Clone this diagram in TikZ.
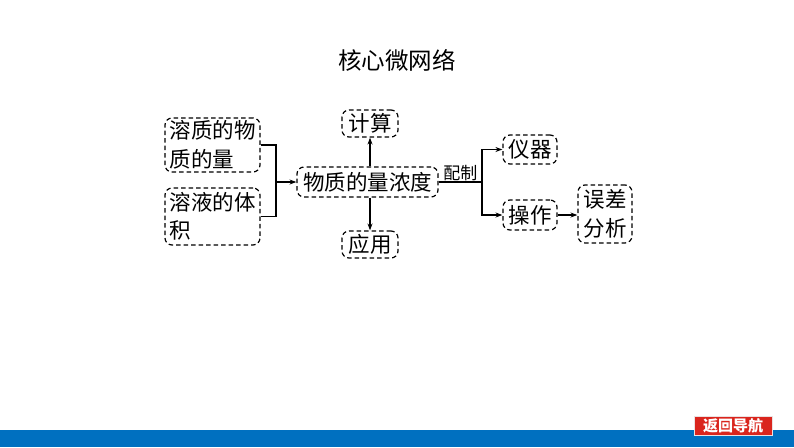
\documentclass[tikz,border=0pt]{standalone}
\usepackage{fontspec}
\setmainfont{Noto Sans CJK SC}
\usetikzlibrary{arrows.meta}
\definecolor{barblue}{RGB}{0,112,192}
\definecolor{navred}{RGB}{218,37,29}
\definecolor{navrim}{RGB}{235,225,225}
\begin{document}
\begin{tikzpicture}[x=1pt,y=-1pt,
  box/.style={draw,dashed,dash pattern=on 4.5pt off 3pt,line width=1.2pt,rounded corners=7pt,inner sep=0pt,font=\fontsize{21.5}{28.5}\selectfont,align=left},
  conn/.style={line width=1.2pt},
  arr/.style={conn,-{Stealth[length=7pt,width=5pt]}}]
\useasboundingbox (0,0) rectangle (794,447);
\fill[white] (0,0) rectangle (794,447);
\fill[barblue] (0,430) rectangle (794,447);
\node[fill=navred,draw=navrim,line width=1pt,minimum width=78pt,minimum height=19pt,inner sep=0pt,text=white,font=\fontsize{15}{16}\selectfont\bfseries] (nav) at (733,425.5) {返回导航};
\node[font=\fontsize{23.5}{26}\selectfont] (title) at (397,60) {核心微网络};
\node[box,minimum width=95pt,minimum height=54pt] (b1) at (212.5,145) {溶质的物\\质的量};
\node[box,minimum width=95pt,minimum height=57pt] (b2) at (212.5,216.5) {溶液的体\\积};
\node[box,minimum width=141pt,minimum height=30pt] (nd) at (367.5,182) {物质的量浓度};
\node[box,minimum width=56pt,minimum height=27pt] (js) at (370,123.5) {计算};
\node[box,minimum width=56pt,minimum height=27pt] (yy) at (370,244.5) {应用};
\node[box,minimum width=54pt,minimum height=29pt] (yq) at (530,149.5) {仪器};
\node[box,minimum width=54pt,minimum height=30pt] (cz) at (530,215) {操作};
\node[box,minimum width=54pt,minimum height=58pt] (wc) at (605,214) {误差\\分析};
\coordinate (J) at (276,182);
\coordinate (K) at (482,182);
\draw[conn] (b1.east) -| (J) |- (b2.east);
\draw[arr] (J) -- (nd.west);
\draw[arr] (nd.north -| js) -- (js.south);
\draw[arr] (nd.south -| yy) -- (yy.north);
\draw[conn] (nd.east) -- node[above=0pt,font=\fontsize{17}{20}\selectfont,inner sep=1pt] (pz) {配制} (K);
\draw[arr] (K) |- (yq.west);
\draw[arr] (K) |- (cz.west);
\draw[arr] (cz.east) -- (cz.east -| wc.west);
\end{tikzpicture}
\end{document}
